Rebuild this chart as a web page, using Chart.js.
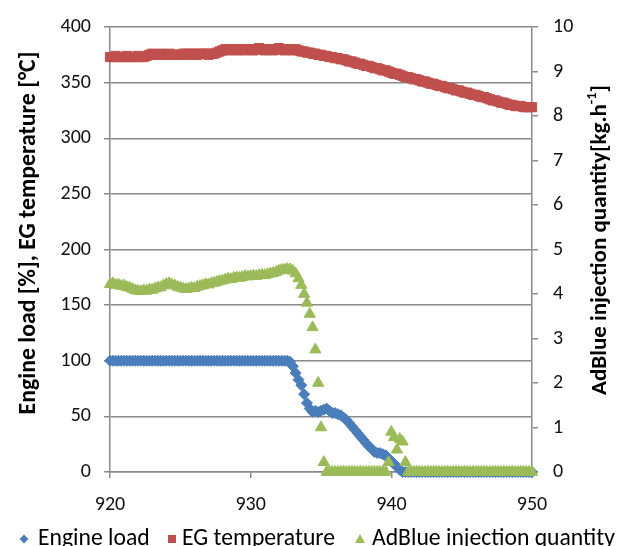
<!DOCTYPE html>
<html><head><meta charset="utf-8">
<script src="https://cdn.jsdelivr.net/npm/chart.js@4/dist/chart.umd.min.js"></script>
<style>html,body{margin:0;padding:0;background:#fff}#wrap{width:628px;height:546px;position:relative}</style>
</head><body><div id="wrap"><canvas id="c" width="628" height="546"></canvas></div>
<script>
// ---- data (time in s) ----
const times = [
920,920.2,920.4,920.6,920.8,921,921.2,921.4,921.6,921.8,
922,922.2,922.4,922.6,922.8,923,923.2,923.4,923.6,923.8,
924,924.2,924.4,924.6,924.8,925,925.2,925.4,925.6,925.8,
926,926.2,926.4,926.6,926.8,927,927.2,927.4,927.6,927.8,
928,928.2,928.4,928.6,928.8,929,929.2,929.4,929.6,929.8,
930,930.2,930.4,930.6,930.8,931,931.2,931.4,931.6,931.8,
932,932.2,932.4,932.6,932.8,933,933.2,933.4,933.6,933.8,
934,934.2,934.4,934.6,934.8,935,935.2,935.4,935.6,935.8,
936,936.2,936.4,936.6,936.8,937,937.2,937.4,937.6,937.8,
938,938.2,938.4,938.6,938.8,939,939.2,939.4,939.6,939.8,
940,940.2,940.4,940.6,940.8,941,941.2,941.4,941.6,941.8,
942,942.2,942.4,942.6,942.8,943,943.2,943.4,943.6,943.8,
944,944.2,944.4,944.6,944.8,945,945.2,945.4,945.6,945.8,
946,946.2,946.4,946.6,946.8,947,947.2,947.4,947.6,947.8,
948,948.2,948.4,948.6,948.8,949,949.2,949.4,949.6,949.8,
950];
const engineLoad = [
100,100,100,100,100,100,100,100,100,100,
100,100,100,100,100,100,100,100,100,100,
100,100,100,100,100,100,100,100,100,100,
100,100,100,100,100,100,100,100,100,100,
100,100,100,100,100,100,100,100,100,100,
100,100,100,100,100,100,100,100,100,100,
100,100,100,100,99,95,89,83,78,70,
62,57,54,55,54,55,56,57,55,53,
53,52,51,49,47,44,41,38,35,32,
29,26,23,21,18,17,17,16,15,12,
10,7,5,2,0,0,0,0,0,0,
0,0,0,0,0,0,0,0,0,0,
0,0,0,0,0,0,0,0,0,0,
0,0,0,0,0,0,0,0,0,0,
0,0,0,0,0,0,0,0,0,0,
0];
const egTemperature = [
373,373,374,373,373,373,374,373,373,373,
374,373,373,374,375,376,375,375,376,375,
375,376,375,375,375,375,376,376,375,376,
376,375,376,376,376,375,376,376,377,378,
379,380,379,380,380,379,380,380,379,380,
380,379,380,381,380,379,380,380,379,380,
381,380,379,380,380,379,380,379,378,378,
377,377,376,376,375,375,374,374,373,373,
372,372,371,371,370,369,369,368,367,367,
366,365,365,364,363,363,362,361,361,360,
359,358,358,357,356,355,355,354,353,353,
352,351,351,350,349,349,348,347,347,346,
345,345,344,343,343,342,341,341,340,339,
339,338,337,337,336,335,334,334,333,332,
332,331,330,330,329,329,329,328,328,328,
328];
const adBlueQty = [
4.22,4.24,4.20,4.21,4.18,4.19,4.15,4.14,4.11,4.08,
4.07,4.06,4.08,4.07,4.10,4.09,4.12,4.14,4.15,4.19,
4.22,4.24,4.21,4.19,4.16,4.14,4.12,4.11,4.12,4.14,
4.13,4.16,4.18,4.19,4.22,4.21,4.24,4.25,4.27,4.29,
4.30,4.32,4.34,4.33,4.36,4.37,4.36,4.38,4.40,4.39,
4.40,4.41,4.40,4.42,4.43,4.42,4.44,4.46,4.47,4.49,
4.52,4.54,4.55,4.56,4.55,4.52,4.46,4.35,4.20,4.00,
3.80,3.55,3.25,2.75,2.00,1.00,0.22,0,0,0,
0,0,0,0,0,0,0,0,0,0,
0,0,0,0,0,0,0,0,0,0.22,
0.9,0.78,0.5,0.74,0.68,0.22,0,0,0,0,
0,0,0,0,0,0,0,0,0,0,
0,0,0,0,0,0,0,0,0,0,
0,0,0,0,0,0,0,0,0,0,
0,0,0,0,0,0,0,0,0,0,
0];
const seriesNames = ["Engine load", "EG temperature", "AdBlue injection quantity"];
const leftTitle = "Engine load [%], EG temperature [°C]";
const rightTitleParts = [["AdBlue injection quantity[kg.h", false], ["-1", true], ["]", false]];
const xRange = [920, 950], xStep = 10;
const yLeftRange = [0, 400], yLeftStep = 50;
const yRightRange = [0, 10], yRightStep = 1;

// ---- styling ----
const FONT = "Carlito, Lato, 'Open Sans', sans-serif";
const AXIS = '#8a8a8a';
const COLORS = ['#4a7ebb', '#c0504d', '#9bbb59'];

const pts = arr => arr.map((v, i) => ({x: times[i], y: v}));

function drawMarker(ctx, style, x, y, r, color) {
  ctx.fillStyle = color;
  ctx.beginPath();
  if (style === 'diamond') { ctx.moveTo(x, y - r); ctx.lineTo(x + r, y); ctx.lineTo(x, y + r); ctx.lineTo(x - r, y); }
  else if (style === 'square') { ctx.rect(x - r, y - r, 2 * r, 2 * r); }
  else { ctx.moveTo(x, y - r); ctx.lineTo(x + r, y + r * 0.8); ctx.lineTo(x - r, y + r * 0.8); }
  ctx.closePath(); ctx.fill();
}

function drawRotText(ctx, parts, cx, cy, target) {
  const measure = size => parts.reduce((s, [t, sup]) => {
    ctx.font = `bold ${sup ? size * 0.62 : size}px ${FONT}`; return s + ctx.measureText(t).width; }, 0);
  const size = 100 * target / measure(100);
  const w = measure(size);
  ctx.save(); ctx.translate(cx, cy); ctx.rotate(-Math.PI / 2);
  ctx.textBaseline = 'middle'; ctx.textAlign = 'left'; ctx.fillStyle = '#000';
  let x = -w / 2;
  for (const [t, sup] of parts) {
    ctx.font = `bold ${sup ? size * 0.62 : size}px ${FONT}`;
    ctx.fillText(t, x, sup ? -size * 0.35 : 0);
    x += ctx.measureText(t).width;
  }
  ctx.restore();
}

const decor = {
  id: 'decor',
  afterDraw(chart) {
    const ctx = chart.ctx;
    drawRotText(ctx, [[leftTitle, false]], 29, 233, 363);
    drawRotText(ctx, rightTitleParts, 600, 240, 310);
    // legend
    ctx.save();
    const widths100 = seriesNames.map(t => { ctx.font = `100px ${FONT}`; return ctx.measureText(t).width; });
    const size = 100 * 508 / widths100.reduce((a, b) => a + b, 0);
    ctx.font = `${size}px ${FONT}`; ctx.textBaseline = 'middle'; ctx.textAlign = 'left';
    const mx = [24, 172, 360], tx = [38, 182, 372], st = ['diamond', 'square', 'triangle'], rr = [4.5, 4, 5];
    for (let i = 0; i < 3; i++) {
      drawMarker(ctx, st[i], mx[i], 539, rr[i], COLORS[i]);
      ctx.fillStyle = '#000';
      ctx.fillText(seriesNames[i], tx[i], 539);
    }
    ctx.restore();
  }
};

const tickFont = {family: FONT, size: 20};
new Chart(document.getElementById('c'), {
  type: 'scatter',
  data: {
    datasets: [
      {label: seriesNames[0], data: pts(engineLoad), yAxisID: 'y', pointStyle: 'rectRot', pointRadius: 5.5,
       backgroundColor: COLORS[0], borderColor: COLORS[0], borderWidth: 1, order: 3, clip: false},
      {label: seriesNames[1], data: pts(egTemperature), yAxisID: 'y', pointStyle: 'rect', pointRadius: 6.5,
       backgroundColor: COLORS[1], borderColor: COLORS[1], borderWidth: 1, order: 2, clip: false},
      {label: seriesNames[2], data: pts(adBlueQty), yAxisID: 'y1', pointStyle: 'triangle', pointRadius: 6.5,
       backgroundColor: COLORS[2], borderColor: COLORS[2], borderWidth: 1, order: 1, clip: false}
    ]
  },
  options: {
    responsive: false, animation: false, devicePixelRatio: 1,
    layout: {padding: {top: 27, left: 0, right: 0, bottom: 0}},
    plugins: {legend: {display: false}, tooltip: {enabled: false}},
    scales: {
      x: {type: 'linear', min: xRange[0], max: xRange[1],
          ticks: {stepSize: xStep, font: tickFont, color: '#111', padding: 15, maxRotation: 0},
          grid: {drawOnChartArea: false, tickLength: 6, color: AXIS, lineWidth: 1.5},
          border: {color: AXIS, width: 1.5},
          afterFit: s => { s.height = 74; }},
      y: {position: 'left', min: yLeftRange[0], max: yLeftRange[1],
          ticks: {stepSize: yLeftStep, font: tickFont, color: '#111', padding: 13},
          grid: {tickLength: 6, color: AXIS, lineWidth: 1.5},
          border: {color: AXIS, width: 1.5},
          afterFit: s => { s.width = 110; }},
      y1: {position: 'right', min: yRightRange[0], max: yRightRange[1],
          ticks: {stepSize: yRightStep, font: tickFont, color: '#111', padding: 15},
          grid: {drawOnChartArea: false, tickLength: 6, color: AXIS, lineWidth: 1.5},
          border: {color: AXIS, width: 1.5},
          afterFit: s => { s.width = 96; }}
    }
  },
  plugins: [decor]
});
</script></body></html>
